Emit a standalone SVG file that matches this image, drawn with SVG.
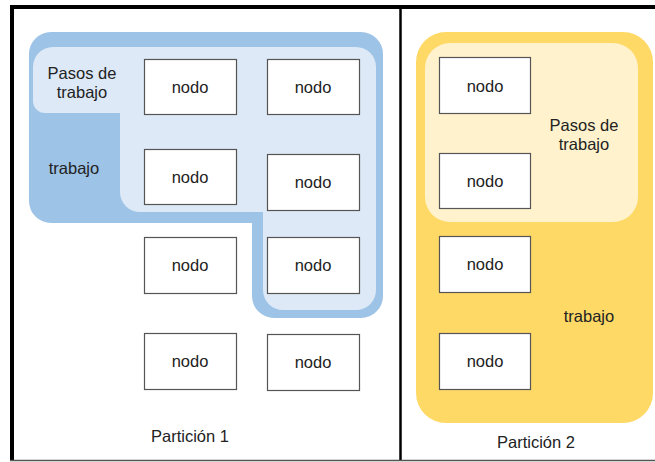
<svg xmlns="http://www.w3.org/2000/svg" width="655" height="462" viewBox="0 0 655 462">
  <style>
    .node rect { fill: #ffffff; stroke: #555555; stroke-width: 1.2; }
    text { font-family: "Liberation Sans", Arial, sans-serif; font-size: 16.5px; fill: #222222; text-anchor: middle; }
    .frame { stroke: #000000; fill: none; }
  </style>
  <rect x="0" y="0" width="655" height="462" fill="#ffffff"/>

  <!-- partition frame -->
  <g id="frame">
    <line class="frame" x1="10" y1="7" x2="655" y2="7" stroke-width="4"/>
    <line class="frame" x1="12" y1="5" x2="12" y2="461" stroke-width="4"/>
    <line class="frame" x1="400.5" y1="7" x2="400.5" y2="460" stroke-width="2.5"/>
    <line x1="10" y1="460.5" x2="655" y2="460.5" stroke="#555555" stroke-width="1.5"/>
  </g>

  <!-- partition 1: job and job steps -->
  <g id="trabajo-1">
    <path fill="#9dc3e6" d="M 51,32 H 361 A 22 22 0 0 1 383,54 V 296 A 22 22 0 0 1 361,318 H 274 A 22 22 0 0 1 252,296 V 223 H 51 A 22 22 0 0 1 29,201 V 54 A 22 22 0 0 1 51,32 Z"/>
    <text x="74" y="174">trabajo</text>
  </g>
  <g id="pasos-1">
    <path fill="#dde9f6" d="M 53,47 H 356 A 20 20 0 0 1 376,67 V 290 A 20 20 0 0 1 356,310 H 283 A 20 20 0 0 1 263,290 V 212 H 140 A 20 20 0 0 1 120,192 V 113 H 45 A 12 12 0 0 1 33,101 V 67 A 20 20 0 0 1 53,47 Z"/>
    <text x="82" y="79">Pasos de</text>
    <text x="82" y="98">trabajo</text>
  </g>

  <!-- partition 2: job and job steps -->
  <g id="trabajo-2">
    <rect x="416" y="32" width="237" height="391" rx="30" fill="#ffd966"/>
    <text x="589" y="322">trabajo</text>
  </g>
  <g id="pasos-2">
    <rect x="425" y="43" width="213" height="179" rx="25" fill="#fff2cc"/>
    <text x="584" y="131">Pasos de</text>
    <text x="584" y="150">trabajo</text>
  </g>

  <!-- nodes -->
  <g id="nodo-1" class="node"><rect x="144.5" y="59.5" width="92" height="55"/><text x="190" y="93">nodo</text></g>
  <g id="nodo-2" class="node"><rect x="267.5" y="59.5" width="92" height="55"/><text x="313" y="93">nodo</text></g>
  <g id="nodo-3" class="node"><rect x="144.5" y="149.5" width="92" height="55"/><text x="190" y="183">nodo</text></g>
  <g id="nodo-4" class="node"><rect x="267.5" y="154.5" width="92" height="56"/><text x="313" y="188">nodo</text></g>
  <g id="nodo-5" class="node"><rect x="144.5" y="237.5" width="92" height="56"/><text x="190" y="271">nodo</text></g>
  <g id="nodo-6" class="node"><rect x="267.5" y="237.5" width="92" height="56"/><text x="313" y="271">nodo</text></g>
  <g id="nodo-7" class="node"><rect x="144.5" y="333.5" width="92" height="56"/><text x="190" y="367">nodo</text></g>
  <g id="nodo-8" class="node"><rect x="267.5" y="334.5" width="92" height="56"/><text x="313" y="368">nodo</text></g>
  <g id="nodo-9" class="node"><rect x="439.5" y="57.5" width="91" height="56"/><text x="485" y="92">nodo</text></g>
  <g id="nodo-10" class="node"><rect x="439.5" y="153.5" width="91" height="55"/><text x="485" y="187">nodo</text></g>
  <g id="nodo-11" class="node"><rect x="439.5" y="236.5" width="91" height="56"/><text x="485" y="270">nodo</text></g>
  <g id="nodo-12" class="node"><rect x="439.5" y="333.5" width="91" height="56"/><text x="485" y="367">nodo</text></g>

  <!-- no connectors in this diagram -->
  <g id="connectors"/>

  <g id="labels">
    <text x="190" y="442">Partición 1</text>
    <text x="536" y="448">Partición 2</text>
  </g>
</svg>
